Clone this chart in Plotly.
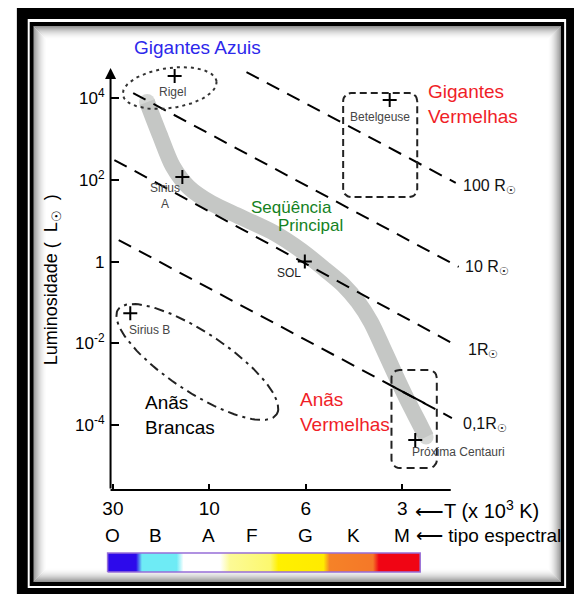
import numpy as np
import plotly.graph_objects as go

W, H = 574, 594
FONT = "Liberation Sans, Arial, Helvetica, sans-serif"

# ---------------- data ----------------
# x axis: spectral-class index (O=0 ... M=6); y axis: luminosity in solar units
spec_letters = ["O", "B", "A", "F", "G", "K", "M"]
spec_pos = [0.0, 0.89, 1.98, 2.88, 4.0, 4.98, 6.0]

temp_pos = [0, 2, 4, 6]
temp_labels = ["30", "10", "6", "3"]

lum_ticks = [1e4, 1e2, 1, 1e-2, 1e-4]
lum_labels = ["10<sup>4</sup>", "10<sup>2</sup>", "1", "10<sup>-2</sup>", "10<sup>-4</sup>"]

# main sequence (centre of the grey band)
ms_x = [0.708, 0.973, 1.239, 1.566, 2.037, 2.650, 3.346, 3.918, 4.409, 4.777,
        5.084, 5.350, 5.595, 5.840, 6.106, 6.372, 6.495]
ms_L = [7980, 1245, 217, 66.7, 27.1, 12.3, 5.0, 1.82, 0.624, 0.268,
        0.103, 0.0333, 0.00816, 0.00189, 4.13e-4, 1.01e-4, 5.14e-5]

# lines of constant radius
radius_labels = ["100 R<sub>☉</sub>", "10 R<sub>☉</sub>", "1R<sub>☉</sub>", "0,1R<sub>☉</sub>"]
rad_x0 = [2.77, 0.42, 0.03, 0.12]
rad_L0 = [43000, 13200, 305, 3.37]
rad_x1 = [7.11, 7.17, 7.03, 7.03]
rad_L1 = [84, 0.74, 0.0102, 0.00015]
seg_x = [5.84, 6.47]          # solid piece of the 0,1 R line
seg_L = [8.4e-4, 3.4e-4]

# individual stars
star_names = ["Rigel", "Sirius A", "SOL", "Betelgeuse", "Sirius B", "Próxima Centauri"]
star_x = [1.28, 1.44, 3.98, 5.74, 0.36, 6.27]
star_L = [34500, 117, 1.0, 8900, 0.055, 4.35e-5]

# regions (centre x, centre log10 L, semi-axes in px, tilt deg)
rigel_region = [1.178, 4.244, 48, 20, 8]
dwarf_region = [1.750, -2.455, 96, 30, -33]
# boxes: x0, x1, L0, L1
betel_box = [4.775, 6.311, 10 ** 1.579, 10 ** 4.122]
prox_box = [5.777, 6.717, 10 ** -5.046, 10 ** -2.650]

# spectral colour strip
strip_colors = [
    [0.0, "rgb(45,10,235)"], [0.091, "rgb(45,10,235)"],
    [0.110, "rgb(110,235,245)"], [0.221, "rgb(110,235,245)"],
    [0.243, "rgb(255,255,255)"], [0.360, "rgb(255,255,255)"],
    [0.391, "rgb(252,250,150)"], [0.521, "rgb(252,248,110)"],
    [0.546, "rgb(255,240,0)"], [0.691, "rgb(255,235,0)"],
    [0.710, "rgb(245,130,40)"], [0.849, "rgb(245,120,40)"],
    [0.868, "rgb(240,5,20)"], [1.0, "rgb(240,5,20)"],
]

# ---------------- geometry helpers ----------------
SX = 48.9   # px per x unit
SY = 40.9   # px per decade


def ellipse(reg, n=120):
    cx, cl, a, b, ang = reg
    t = np.linspace(0, 2 * np.pi, n)
    th = np.radians(ang)
    du = a * np.cos(t) * np.cos(th) - b * np.sin(t) * np.sin(th)
    dv = a * np.cos(t) * np.sin(th) + b * np.sin(t) * np.cos(th)
    return cx + du / SX, 10 ** (cl + dv / SY)


def rounded_box(box, r=8, n=8):
    x0, x1, L0, L1 = box
    u0, u1 = x0 * SX, x1 * SX
    v0, v1 = np.log10(L0) * SY, np.log10(L1) * SY
    pts = []
    corners = [(u1 - r, v1 - r, 0), (u0 + r, v1 - r, 90), (u0 + r, v0 + r, 180), (u1 - r, v0 + r, 270)]
    for cu, cv, a0 in corners:
        for a in np.linspace(a0, a0 + 90, n):
            pts.append((cu + r * np.cos(np.radians(a)), cv + r * np.sin(np.radians(a))))
    pts.append(pts[0])
    u = np.array([p[0] for p in pts]); v = np.array([p[1] for p in pts])
    return u / SX, 10 ** (v / SY)


def P(px, py):
    return px / W, 1 - py / H


fig = go.Figure()

# main sequence band
BAND = "#c5c7c5"
fig.add_trace(go.Scatter(x=ms_x, y=ms_L, mode="lines", hoverinfo="skip",
                         line=dict(color=BAND, width=16, shape="spline", smoothing=0.8)))
fig.add_trace(go.Scatter(x=[ms_x[0], ms_x[-1]], y=[ms_L[0], ms_L[-1]], mode="markers", hoverinfo="skip",
                         marker=dict(color=BAND, size=[16, 15], line_width=0)))

# constant-radius lines
for i in range(len(rad_x0)):
    fig.add_trace(go.Scatter(x=[rad_x0[i], rad_x1[i]], y=[rad_L0[i], rad_L1[i]], mode="lines",
                             hoverinfo="skip", line=dict(color="black", width=2, dash="14px,9px")))
fig.add_trace(go.Scatter(x=seg_x, y=seg_L, mode="lines", hoverinfo="skip",
                         line=dict(color="black", width=2)))

# regions
ex, ey = ellipse(rigel_region)
fig.add_trace(go.Scatter(x=ex, y=ey, mode="lines", hoverinfo="skip",
                         line=dict(color="#333333", width=2, dash="3px,4px")))
ex, ey = ellipse(dwarf_region)
fig.add_trace(go.Scatter(x=ex, y=ey, mode="lines", hoverinfo="skip",
                         line=dict(color="#222222", width=2, dash="10px,5px,3px,5px")))
bx, by = rounded_box(betel_box)
fig.add_trace(go.Scatter(x=bx, y=by, mode="lines", hoverinfo="skip",
                         line=dict(color="#222222", width=2, dash="7px,4px")))
bx, by = rounded_box(prox_box)
fig.add_trace(go.Scatter(x=bx, y=by, mode="lines", hoverinfo="skip",
                         line=dict(color="#222222", width=2, dash="8px,5px")))

# stars
fig.add_trace(go.Scatter(x=star_x, y=star_L, mode="markers", hoverinfo="text", text=star_names,
                         marker=dict(symbol="cross-thin", size=10, line=dict(color="black", width=2))))

# spectral strip
fig.add_trace(go.Scatter(x=[0, 1, 1, 0, 0], y=[0, 0, 1, 1, 0], xaxis="x2", yaxis="y2", mode="lines",
                         fill="toself", hoverinfo="skip",
                         fillgradient=dict(type="horizontal", colorscale=strip_colors),
                         line=dict(color="rgb(150,110,215)", width=1.5)))

# ---------------- frame shapes ----------------
shapes = []


def rect_px(x0, y0, x1, y1, fill=None, line=None, lw=0):
    a0, b0 = P(x0, y1)
    a1, b1 = P(x1, y0)
    d = dict(type="rect", xref="paper", yref="paper", x0=a0, y0=b0, x1=a1, y1=b1, layer="below",
             line=dict(width=lw, color=line or "rgba(0,0,0,0)"))
    if fill:
        d["fillcolor"] = fill
    return d


shapes.append(rect_px(9, 8, 590, 610, fill="black"))
shapes.append(rect_px(20, 19, 566, 588, fill="white"))
shapes.append(rect_px(22, 22, 564, 586, fill="black"))
shapes.append(rect_px(26, 26, 560.7, 582, fill="white"))
for i in range(14):
    a = 0.42 * (1 - i / 14) ** 2
    shapes.append(rect_px(26.5 + i, 26.5 + i, 560.2 - i, 581.5 - i, line=f"rgba(0,0,0,{a:.3f})", lw=1))

# x axis line
xa0, ya0 = P(104, 490)
xa1, _ = P(449, 490)
shapes.append(dict(type="line", xref="paper", yref="paper", x0=xa0, x1=xa1, y0=ya0, y1=ya0,
                   line=dict(color="black", width=2)))

# ---------------- annotations ----------------
anns = []


def ann(text, px, py, size, color="black", xanchor="center", yanchor="middle", **kw):
    x, y = P(px, py)
    d = dict(text=text, x=x, y=y, xref="paper", yref="paper", showarrow=False,
             font=dict(size=size, color=color, family=FONT), xanchor=xanchor, yanchor=yanchor)
    d.update(kw)
    return d


# y axis line with arrow
ax_x, ax_y = P(104, 68)
anns.append(dict(text="", x=ax_x, y=ax_y, xref="paper", yref="paper", showarrow=True,
                 ax=0, ay=422, axref="pixel", ayref="pixel", arrowhead=2, arrowsize=1.1,
                 arrowwidth=2, arrowcolor="black", standoff=0, startstandoff=0))

anns.append(ann("Gigantes Azuis", 192, 48, 19, "rgb(45,40,235)"))
anns.append(ann("Gigantes<br>Vermelhas", 424, 104, 19, "rgb(240,30,40)", xanchor="left", align="left"))
anns.append(ann("Seqüência", 287, 207, 17, "rgb(20,130,30)"))
anns.append(ann("Principal", 307, 226, 17, "rgb(20,130,30)"))
anns.append(ann("Anãs<br>Brancas", 137, 415, 19, "black", xanchor="left", align="left"))
anns.append(ann("Anãs<br>Vermelhas", 294, 412, 19, "rgb(240,30,40)", xanchor="left", align="left"))
anns.append(ann("Luminosidade (\u00a0\u00a0L<sub>☉</sub>\u00a0\u00a0)", 45, 280, 18, "black",
                textangle=-90))

# radius labels
rad_label_px = [(459, 186), (461, 268), (464, 350), (459, 424)]
for t, (px, py) in zip(radius_labels, rad_label_px):
    anns.append(ann(t, px, py, 16, "#111111", xanchor="left"))

# star labels
star_lbl = [("Rigel", 167, 92), ("Sirius<br>A", 159, 196), ("Betelgeuse", 377, 117),
            ("Sirius B", 143, 330), ("Próxima Centauri", 457, 452)]
for t, px, py in star_lbl:
    anns.append(ann(t, px, py, 12, "rgb(70,70,70)"))
anns.append(ann("SOL", 285, 273, 12, "rgb(30,30,30)"))

# spectral letters (placed through the x axis)
_, ly = P(0, 535)
for letter, pos in zip(spec_letters, spec_pos):
    anns.append(dict(text=letter, x=pos, y=ly, xref="x", yref="paper", showarrow=False,
                     font=dict(size=19, color="black", family=FONT), xanchor="center", yanchor="middle"))

anns.append(ann("⟵T (x 10<sup>3</sup>\u00a0K)", 411, 509, 20, "black", xanchor="left"))
anns.append(ann("⟵ tipo espectral", 412, 535, 19, "black", xanchor="left"))

# ---------------- layout ----------------
fig.update_layout(
    width=W, height=H, margin=dict(l=0, r=0, t=0, b=0),
    paper_bgcolor="white", plot_bgcolor="rgba(0,0,0,0)", showlegend=False,
    font=dict(family=FONT, color="black"),
    xaxis=dict(domain=[104 / W, 560 / W], range=[-0.0491, 9.276], showgrid=False, zeroline=False,
               showline=False, ticks="inside", ticklen=6, tickwidth=2, tickcolor="black",
               tickvals=temp_pos, ticktext=temp_labels, tickfont=dict(size=19, color="black"),
               ticklabelstandoff=5, fixedrange=True),
    yaxis=dict(type="log", domain=[1 - 490 / H, 1 - 30 / H], range=[-5.584, 5.663], showgrid=False,
               zeroline=False, showline=False, ticks="inside", ticklen=8, tickwidth=2,
               tickcolor="black", tickvals=lum_ticks, ticktext=lum_labels,
               tickfont=dict(size=17, color="black"), ticklabelstandoff=5, fixedrange=True),
    xaxis2=dict(domain=[99 / W, 420 / W], range=[-2 / 317, 1 + 2 / 317], visible=False,
                anchor="y2", fixedrange=True),
    yaxis2=dict(domain=[1 - 574 / H, 1 - 551 / H], range=[-2 / 19, 1 + 2 / 19], visible=False,
                anchor="x2", fixedrange=True),
    shapes=shapes, annotations=anns,
)

fig.write_html("out.html")
